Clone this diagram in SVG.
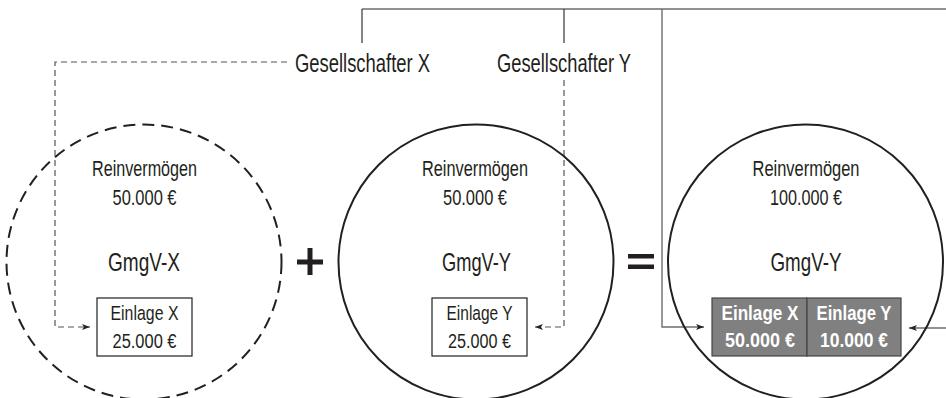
<svg xmlns="http://www.w3.org/2000/svg" width="946" height="398" viewBox="0 0 946 398">
  <defs>
    <marker id="arrow" viewBox="0 0 8 6" refX="8" refY="3" markerWidth="8" markerHeight="6" markerUnits="userSpaceOnUse" orient="auto">
      <path d="M0,0 L8,3 L0,6 L2,3 Z" fill="#222"/>
    </marker>
  </defs>
  <style>
    .t { font-family: "Liberation Sans", Arial, sans-serif; fill: #231f20; text-anchor: middle; }
    .lbl { font-size: 26px; }
    .sm { font-size: 21.5px; }
    .name { font-size: 25px; }
    .box { font-size: 20.5px; }
    .wb { font-size: 20.5px; font-weight: bold; fill: #fff; }
    .circ { fill: none; stroke: #231f20; stroke-width: 2; }
    .solid { fill: none; stroke: #6d6d6d; stroke-width: 1.4; }
    .dark { fill: none; stroke: #333; stroke-width: 1.2; }
    .dash { fill: none; stroke: #555; stroke-width: 1.2; stroke-dasharray: 6 4; }
    .einlage { fill: #fff; stroke: #231f20; stroke-width: 1.2; }
    .grey { fill: #808080; stroke: #444; stroke-width: 1.2; }
    .op { fill: #231f20; }
  </style>

  <!-- connectors -->
  <g id="connectors">
    <path class="solid" d="M362,9 H946"/>
    <path class="dark" d="M362,9 V43"/>
    <path class="dark" d="M564,9 V43"/>
    <path class="solid" d="M662,9 V327 H704" marker-end="url(#arrow)"/>
    <path class="solid" d="M946,328 H909" marker-end="url(#arrow)"/>
    <path class="dash" d="M287,62 H55 V327 H90" marker-end="url(#arrow)"/>
    <path class="dash" d="M564,80 V327 H535" marker-end="url(#arrow)"/>
  </g>

  <!-- shareholders -->
  <g id="gesellschafter-x">
    <text class="t lbl" x="362.5" y="72" textLength="135" lengthAdjust="spacingAndGlyphs">Gesellschafter X</text>
  </g>
  <g id="gesellschafter-y">
    <text class="t lbl" x="564" y="72" textLength="134" lengthAdjust="spacingAndGlyphs">Gesellschafter Y</text>
  </g>

  <!-- GmgV-X (dissolved) -->
  <g id="gmgv-x">
    <circle class="circ" cx="144" cy="262" r="137.5" stroke-dasharray="12 7"/>
    <text class="t sm" x="144.5" y="176" textLength="105" lengthAdjust="spacingAndGlyphs">Reinvermögen</text>
    <text class="t sm" x="144.5" y="205" textLength="64" lengthAdjust="spacingAndGlyphs">50.000 €</text>
    <text class="t name" x="144" y="271" textLength="72" lengthAdjust="spacingAndGlyphs">GmgV-X</text>
  </g>
  <g id="einlage-x">
    <rect class="einlage" x="97" y="298" width="95" height="58"/>
    <text class="t box" x="144.5" y="320" textLength="68" lengthAdjust="spacingAndGlyphs">Einlage X</text>
    <text class="t box" x="144.5" y="348" textLength="64" lengthAdjust="spacingAndGlyphs">25.000 €</text>
  </g>

  <!-- plus -->
  <g id="plus">
    <rect class="op" x="297" y="259.5" width="26" height="5"/>
    <rect class="op" x="307.5" y="248" width="5" height="27"/>
  </g>

  <!-- GmgV-Y (before) -->
  <g id="gmgv-y">
    <circle class="circ" cx="476" cy="262" r="137.5"/>
    <text class="t sm" x="475" y="176" textLength="106" lengthAdjust="spacingAndGlyphs">Reinvermögen</text>
    <text class="t sm" x="475" y="205" textLength="64" lengthAdjust="spacingAndGlyphs">50.000 €</text>
    <text class="t name" x="476.5" y="271" textLength="69" lengthAdjust="spacingAndGlyphs">GmgV-Y</text>
  </g>
  <g id="einlage-y">
    <rect class="einlage" x="432" y="298" width="95" height="58"/>
    <text class="t box" x="479.5" y="320" textLength="66" lengthAdjust="spacingAndGlyphs">Einlage Y</text>
    <text class="t box" x="479.5" y="348" textLength="63" lengthAdjust="spacingAndGlyphs">25.000 €</text>
  </g>

  <!-- equals -->
  <g id="equals">
    <rect class="op" x="628" y="254" width="26" height="4.5"/>
    <rect class="op" x="628" y="264.5" width="26" height="4.5"/>
  </g>

  <!-- GmgV-Y (after merger) -->
  <g id="gmgv-y-merged">
    <circle class="circ" cx="805.5" cy="262" r="137.5"/>
    <text class="t sm" x="806" y="176" textLength="107" lengthAdjust="spacingAndGlyphs">Reinvermögen</text>
    <text class="t sm" x="806" y="205" textLength="72" lengthAdjust="spacingAndGlyphs">100.000 €</text>
    <text class="t name" x="806" y="271" textLength="71" lengthAdjust="spacingAndGlyphs">GmgV-Y</text>
  </g>
  <g id="einlage-x-merged">
    <rect class="grey" x="712" y="298" width="95" height="58"/>
    <text class="t wb" x="760" y="320" textLength="77" lengthAdjust="spacingAndGlyphs">Einlage X</text>
    <text class="t wb" x="760" y="347" textLength="70" lengthAdjust="spacingAndGlyphs">50.000 €</text>
  </g>
  <g id="einlage-y-merged">
    <rect class="grey" x="807" y="298" width="94" height="58"/>
    <text class="t wb" x="854" y="320" textLength="75" lengthAdjust="spacingAndGlyphs">Einlage Y</text>
    <text class="t wb" x="854" y="347" textLength="68" lengthAdjust="spacingAndGlyphs">10.000 €</text>
  </g>
</svg>
